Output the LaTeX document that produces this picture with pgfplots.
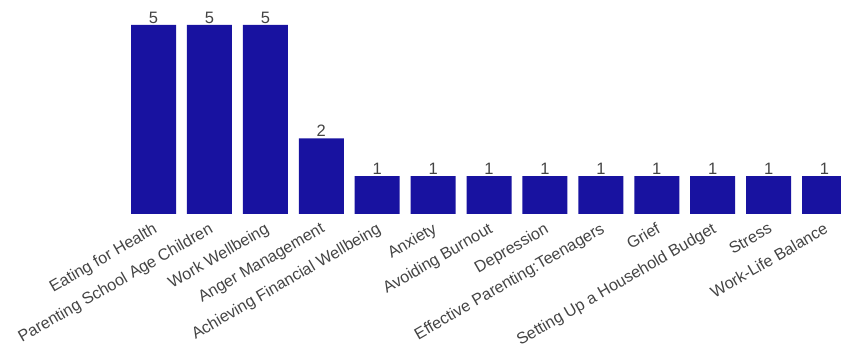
\documentclass[border=0pt]{standalone}
\usepackage{pgfplots}
\pgfplotsset{compat=1.18}
\usepackage{fontspec}
\setmainfont{Liberation Sans}
\definecolor{barc}{RGB}{24,18,160}
\definecolor{txt}{RGB}{68,68,68}
\begin{document}
\begin{tikzpicture}
\begin{axis}[
 at={(0,0)}, anchor=south west,
 scale only axis, width=841pt, height=214pt,
 xmin=-2.745, xmax=12.294, ymin=0, ymax=5.661,
 axis line style={draw=none}, major tick length=0pt,
 ytick=\empty,
 xtick={0,...,12},
 xticklabels={Eating for Health, Parenting School Age Children, Work Wellbeing, Anger Management, Achieving Financial Wellbeing, Anxiety, Avoiding Burnout, Depression, Effective Parenting:Teenagers, Grief, Setting Up a Household Budget, Stress, Work-Life Balance},
 xticklabel style={rotate=30, anchor=north east, inner sep=0pt, font=\fontsize{16.2}{19}\selectfont, text=txt, yshift=-6pt, xshift=-5pt},
 ybar, bar width=45pt,
 /pgf/number format/assume math mode=true,
 nodes near coords,
 every node near coord/.append style={font=\fontsize{16.5}{19}\selectfont, text=txt, inner sep=1.5pt},
 ]
\addplot[fill=barc, draw=none] coordinates {(0,5) (1,5) (2,5) (3,2) (4,1) (5,1) (6,1) (7,1) (8,1) (9,1) (10,1) (11,1) (12,1)};
\end{axis}
\pgfresetboundingbox
\useasboundingbox (0,-136pt) rectangle (841pt,214pt);
\end{tikzpicture}
\end{document}
